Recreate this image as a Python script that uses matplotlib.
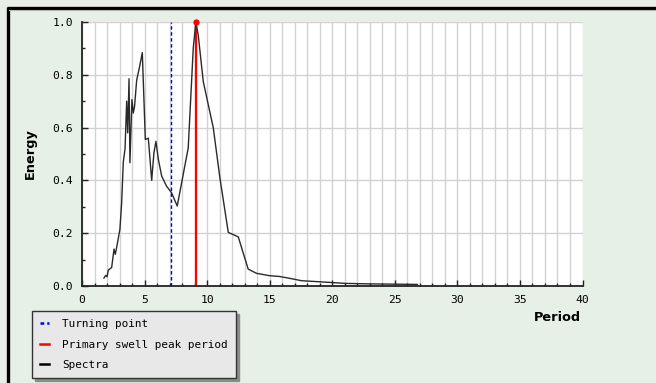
import matplotlib
matplotlib.use("Agg")
import matplotlib.pyplot as plt
from matplotlib.lines import Line2D
from matplotlib.ticker import MultipleLocator, FormatStrFormatter

# Normalised wave energy spectrum against period (s)
period = [1.75, 1.9, 2.0, 2.1, 2.37, 2.56, 2.66, 2.77, 3.03, 3.17, 3.30,
          3.44, 3.57, 3.65, 3.76, 3.83, 3.99, 4.10, 4.20, 4.37, 4.60, 4.82,
          5.06, 5.30, 5.57, 5.75, 5.91, 6.10, 6.37, 6.76, 7.16, 7.61, 8.09,
          8.49, 8.89, 9.10, 9.29, 9.69, 10.09, 10.49, 11.02, 11.69, 12.49,
          13.28, 13.95, 15.0, 15.8, 16.6, 17.55, 19.0, 20.0, 21.0, 23.0,
          25.0, 26.8]
energy = [0.03, 0.04, 0.035, 0.06, 0.07, 0.14, 0.12, 0.146, 0.215, 0.316,
          0.47, 0.52, 0.70, 0.58, 0.785, 0.467, 0.706, 0.655, 0.68, 0.78,
          0.83, 0.884, 0.555, 0.56, 0.40, 0.505, 0.548, 0.48, 0.416, 0.378,
          0.353, 0.303, 0.423, 0.523, 0.90, 1.0, 0.95, 0.775, 0.687, 0.60,
          0.41, 0.203, 0.186, 0.064, 0.048, 0.039, 0.036, 0.029, 0.02, 0.016,
          0.013, 0.01, 0.008, 0.007, 0.006]

turning_point = 7.1
peak_period = 9.1
peak_energy = 1.0

legend_labels = ["Turning point", "Primary swell peak period", "Spectra"]

BG = "#e6f0e6"
MONO = "DejaVu Sans Mono"

fig = plt.figure(figsize=(6.56, 3.83), dpi=100, facecolor=BG)
ax = fig.add_axes([82 / 656, 1 - 286 / 383, 500.5 / 656, 264 / 383])
ax.set_facecolor("white")

ax.set_xlim(0, 40)
ax.set_ylim(0, 1.0)

ax.xaxis.set_major_locator(MultipleLocator(5))
ax.xaxis.set_minor_locator(MultipleLocator(1))
ax.yaxis.set_major_locator(MultipleLocator(0.2))
ax.yaxis.set_minor_locator(MultipleLocator(0.1))
ax.yaxis.set_major_formatter(FormatStrFormatter("%.1f"))

ax.grid(True, which="both", axis="x", color="#d2d2d2", lw=1.0)
ax.grid(True, which="major", axis="y", color="#d2d2d2", lw=1.0)
ax.set_axisbelow(True)

for side in ("top", "right"):
    ax.spines[side].set_visible(False)
for side in ("left", "bottom"):
    ax.spines[side].set_color("#222222")
    ax.spines[side].set_linewidth(1.3)

ax.tick_params(which="both", direction="in", color="#222222",
               labelsize=8.2, top=False, right=False)
ax.tick_params(which="major", length=4.5, width=1.0, pad=6.5)
ax.tick_params(which="minor", length=2.3, width=1.0)
for lab in ax.get_xticklabels() + ax.get_yticklabels():
    lab.set_fontfamily(MONO)

ax.axvline(turning_point, ymin=0, ymax=1, color="#0000e0", lw=1.0,
           ls=(0, (2.5, 1.8)))
ax.axvline(peak_period, ymin=0, ymax=peak_energy, color="#ff0000", lw=1.6)
ax.plot([peak_period], [peak_energy], "o", color="#ff0000", ms=3.5,
        clip_on=False, zorder=5)
ax.plot(period, energy, color="#2a2a2a", lw=1.0, zorder=4)

ax.set_ylabel("Energy", fontsize=9.3, fontweight="bold")
ax.yaxis.set_label_coords(-0.09, 0.5)
ax.set_xlabel("Period", fontsize=9.3, fontweight="bold", ha="right")
ax.xaxis.set_label_coords(0.997, -0.095)

handles = [
    Line2D([], [], color="#0000e0", lw=1.8, ls=(0, (1.5, 1.2))),
    Line2D([], [], color="#ff0000", lw=1.8),
    Line2D([], [], color="#000000", lw=1.8),
]
leg = fig.legend(handles, legend_labels, loc="upper left",
                 bbox_to_anchor=(32 / 656, 1 - 311 / 383),
                 prop={"family": MONO, "size": 7.9},
                 frameon=True, fancybox=False, edgecolor="#333333",
                 facecolor="#e8e8e8", framealpha=1.0,
                 shadow={"ox": 2, "oy": -2, "color": "0.55", "alpha": 1.0},
                 handlelength=0.8, handletextpad=1.2, borderpad=0.75,
                 labelspacing=0.95, borderaxespad=0)
leg.get_frame().set_linewidth(1.0)

# Outer panel border (top and left edges)
fig.add_artist(Line2D([6.5 / 656, 1], [1 - 7.5 / 383] * 2,
                      transform=fig.transFigure, color="black", lw=2.4,
                      solid_capstyle="butt"))
fig.add_artist(Line2D([7.5 / 656] * 2, [0, 1 - 6.5 / 383],
                      transform=fig.transFigure, color="black", lw=2.4,
                      solid_capstyle="butt"))
fig.add_artist(Line2D([9 / 656, 1], [1 - 10 / 383] * 2,
                      transform=fig.transFigure, color="#b0b8b0", lw=0.8))

fig.savefig("out.png", dpi=100, facecolor=BG)
